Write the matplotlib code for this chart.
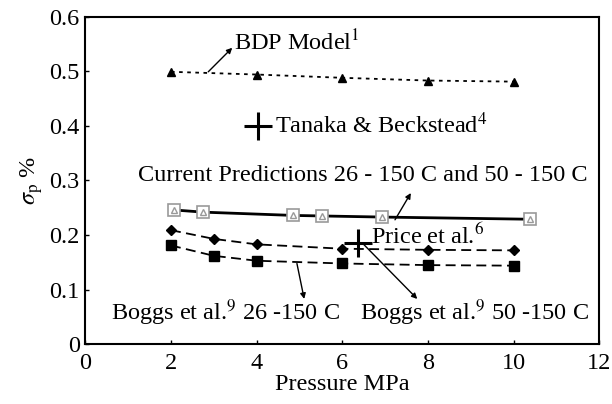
import matplotlib.pyplot as plt

plt.rcParams['font.family'] = ['Liberation Serif', 'DejaVu Serif']
plt.rcParams['mathtext.fontset'] = 'stix'

# BDP model
bdp_x = [2, 4, 6, 8, 10]
bdp_y = [0.499, 0.494, 0.488, 0.483, 0.481]

# current predictions
cur_x = [2.07, 2.75, 4.85, 5.53, 6.92, 10.38]
cur_y = [0.246, 0.242, 0.236, 0.235, 0.233, 0.229]

# Boggs et al. 50 -150 C (diamonds)
b50_x = [2, 3, 4, 6, 8, 10]
b50_y = [0.209, 0.193, 0.183, 0.175, 0.173, 0.172]

# Boggs et al. 26 -150 C (squares)
b26_x = [2, 3, 4, 6, 8, 10]
b26_y = [0.181, 0.162, 0.153, 0.148, 0.145, 0.144]

tanaka = (4.04, 0.40)
price = (6.37, 0.185)

fig = plt.figure(figsize=(6.12, 4.04), dpi=100)
ax = fig.add_axes([0.1394, 0.1478, 0.8399, 0.811])

ax.plot(bdp_x, bdp_y, color='black', linestyle=(0, (2, 2.5)), linewidth=1.3,
        marker='^', markersize=6)
ax.plot(cur_x, cur_y, color='black', linewidth=2)
ax.plot(cur_x, cur_y, linestyle='none', marker='s', markersize=9,
        markerfacecolor='white', markeredgecolor='#999999', markeredgewidth=1.2)
ax.plot(cur_x, cur_y, linestyle='none', marker='^', markersize=5,
        markerfacecolor='none', markeredgecolor='#999999', markeredgewidth=1)
ax.plot(b50_x, b50_y, color='black', linestyle=(0, (5.5, 3)), linewidth=1.3,
        marker='D', markersize=5)
ax.plot(b26_x, b26_y, color='black', linestyle=(0, (5.5, 3)), linewidth=1.3,
        marker='s', markersize=7)
ax.plot(*tanaka, marker='+', markersize=20, markeredgewidth=2.2, color='black')
ax.plot(*price, marker='+', markersize=20, markeredgewidth=2.2, color='black')

arrow = dict(arrowstyle='-|>', color='black', linewidth=1, mutation_scale=8,
             shrinkA=0, shrinkB=0)
fs = 17.5
ax.annotate('', xy=(3.43, 0.543), xytext=(2.87, 0.499), arrowprops=arrow)
ax.text(3.47, 0.552, 'BDP Model$^{1}$', fontsize=fs, va='center', ha='left')
ax.text(4.43, 0.40, 'Tanaka & Beckstead$^{4}$', fontsize=fs, va='center', ha='left')
ax.text(1.22, 0.31, 'Current Predictions 26 - 150 C and 50 - 150 C',
        fontsize=fs, va='center', ha='left')
ax.annotate('', xy=(7.6, 0.277), xytext=(7.23, 0.228), arrowprops=arrow)
ax.text(6.68, 0.198, 'Price et al.$^{6}$', fontsize=fs, va='center', ha='left')
ax.annotate('', xy=(7.75, 0.083), xytext=(6.46, 0.186), arrowprops=arrow)
ax.annotate('', xy=(5.11, 0.083), xytext=(4.94, 0.148), arrowprops=arrow)
ax.text(0.61, 0.058, 'Boggs et al.$^{9}$ 26 -150 C', fontsize=fs, va='center', ha='left')
ax.text(6.41, 0.058, 'Boggs et al.$^{9}$ 50 -150 C', fontsize=fs, va='center', ha='left')

ax.set_xlim(0, 12)
ax.set_ylim(0, 0.6)
ax.set_xticks([0, 2, 4, 6, 8, 10, 12])
ax.set_yticks([0, 0.1, 0.2, 0.3, 0.4, 0.5, 0.6])
ax.set_yticklabels(['0', '0.1', '0.2', '0.3', '0.4', '0.5', '0.6'])
ax.tick_params(direction='in', length=3, width=1, labelsize=fs)
ax.tick_params(axis='x', pad=6)
ax.tick_params(axis='y', pad=4)
for s in ax.spines.values():
    s.set_linewidth(1.5)
ax.set_xlabel('Pressure MPa', fontsize=fs, labelpad=0)
ax.set_ylabel(r'$\sigma_{\rm p}$ %', fontsize=fs, labelpad=3)

fig.savefig('out.png', dpi=100)
